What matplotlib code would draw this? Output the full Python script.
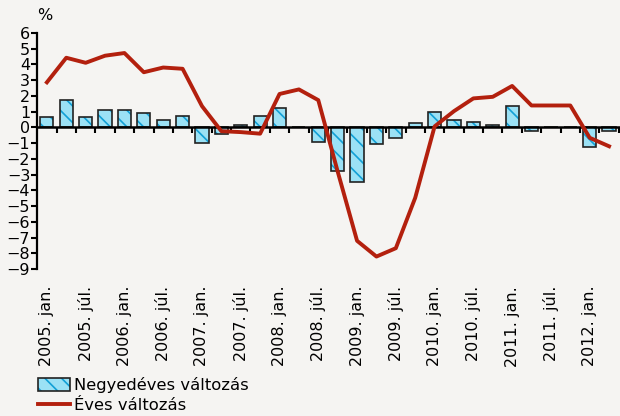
import numpy as np
import matplotlib
matplotlib.use("Agg")
import matplotlib.pyplot as plt

# quarterly data, 2005 Q1 - 2012 Q2
quarterly = [0.68, 1.73, 0.64, 1.11, 1.11, 0.94, 0.49, 0.75,
             -0.96, -0.43, 0.17, 0.75, 1.22, 0.03, -0.90, -2.74,
             -3.46, -1.05, -0.68, 0.28, 0.98, 0.45, 0.34, 0.13,
             1.37, -0.21, 0.03, 0.0, -1.26, -0.20]
annual = [2.86, 4.42, 4.10, 4.55, 4.72, 3.50, 3.80, 3.72,
          1.35, -0.24, -0.30, -0.40, 2.12, 2.41, 1.73, -2.80,
          -7.20, -8.20, -7.67, -4.47, 0.06, 1.03, 1.84, 1.94,
          2.63, 1.39, 1.39, 1.39, -0.66, -1.20]
tick_labels = ["2005. jan.", "2005. júl.", "2006. jan.", "2006. júl.",
               "2007. jan.", "2007. júl.", "2008. jan.", "2008. júl.",
               "2009. jan.", "2009. júl.", "2010. jan.", "2010. júl.",
               "2011. jan.", "2011. júl.", "2012. jan."]

bg = "#f5f4f2"
bar_face = "#9be1f5"
hatch_col = "#12a0d6"
line_col = "#b3200e"

plt.rcParams["hatch.linewidth"] = 1.2
plt.rcParams["font.family"] = ["DejaVu Sans"]

fig = plt.figure(figsize=(6.2, 4.16), dpi=100, facecolor=bg)
ax = fig.add_axes([0.06, 0.353, 0.938, 0.568])
ax.set_facecolor(bg)

x = np.arange(len(quarterly))
bars = ax.bar(x, quarterly, width=0.68, color=bar_face, edgecolor=hatch_col,
              linewidth=0, hatch="\\\\", zorder=2)
outline = ax.bar(x, quarterly, width=0.68, fill=False, edgecolor="#222222",
                 linewidth=1.2, zorder=3)
line, = ax.plot(x, annual, color=line_col, linewidth=2.8, zorder=5)

ax.set_xlim(-0.5, len(quarterly) - 0.5)
ax.set_ylim(-9, 6)
ax.set_yticks(range(-9, 7))
ax.tick_params(axis="y", labelsize=11.5, length=4, width=1.5, pad=1,
               direction="out")

for s in ["top", "right"]:
    ax.spines[s].set_visible(False)
ax.spines["left"].set_linewidth(1.6)
ax.spines["bottom"].set_position(("data", 0))
ax.spines["bottom"].set_linewidth(1.8)
ax.spines["bottom"].set_zorder(4)

ax.set_xticks(np.arange(0.5, len(quarterly), 1.0))
ax.tick_params(axis="x", length=4, width=1.5, direction="out",
               labelbottom=False)

sec = ax.secondary_xaxis("bottom")
sec.set_xticks(x[::2], tick_labels, rotation=90)
sec.spines["bottom"].set_visible(False)
sec.tick_params(length=0, pad=12, labelsize=11.5)

ax.text(0.0, 1.04, "%", transform=ax.transAxes, fontsize=11.5,
        ha="left", va="bottom")

leg = fig.legend([(bars[0], outline[0]), line],
                 ["Negyedéves változás", "Éves változás"],
                 loc="lower left", bbox_to_anchor=(0.037, -0.028),
                 frameon=False, fontsize=11.8, handlelength=2.0,
                 handleheight=0.8, handletextpad=0.2, labelspacing=0.3)

fig.savefig("out.png", dpi=100, facecolor=bg)
